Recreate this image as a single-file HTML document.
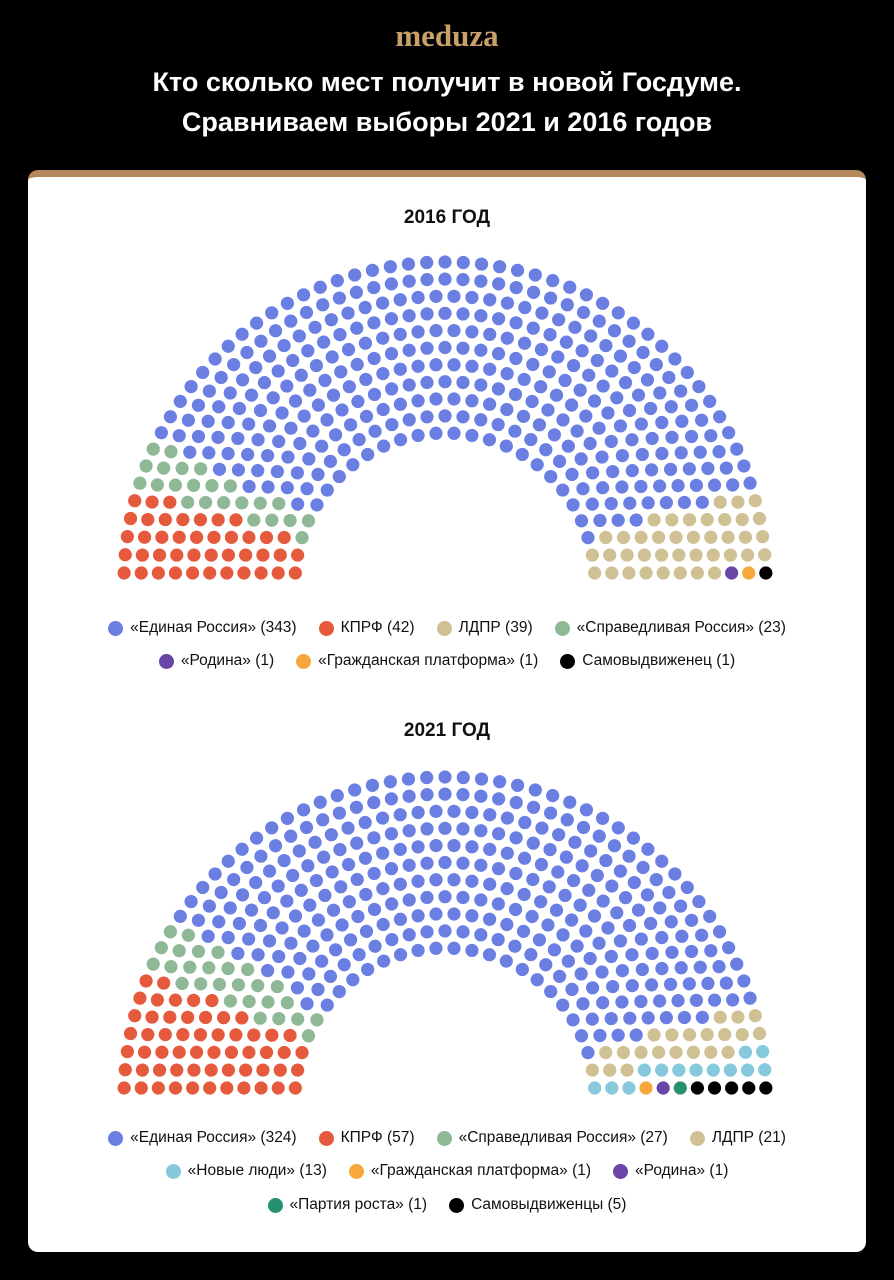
<!DOCTYPE html>
<html><head><meta charset="utf-8"><style>
body{margin:0;width:894px;height:1280px;background:#000;font-family:"Liberation Sans",sans-serif;position:relative;overflow:hidden}
.logo{position:absolute;top:18px;width:100%;text-align:center;color:#c9a06a;font-family:"Liberation Serif",serif;font-weight:bold;font-size:31px;letter-spacing:0px}
.title{position:absolute;top:62px;width:100%;text-align:center;color:#fff;font-weight:bold;font-size:27px;line-height:40px}
.card{position:absolute;left:28px;top:170px;width:838px;height:1082px;background:#fff;border-radius:10px;border-top:7px solid #b48a5c;box-sizing:border-box}
.h{position:absolute;width:100%;text-align:center;font-weight:bold;font-size:19px;color:#111}
.leg{position:absolute;width:100%;display:flex;justify-content:center;gap:22px;font-size:15.5px;color:#111}
.leg span{display:flex;align-items:center}
.leg i{display:inline-block;width:15px;height:15px;border-radius:50%;margin-right:7px}
svg{position:absolute;left:0;top:0}
</style></head><body>
<div class="logo">meduza</div>
<div class="title">Кто сколько мест получит в новой Госдуме.<br>Сравниваем выборы 2021 и 2016 годов</div>
<div class="card"></div>
<div class="h" style="top:207px">2016 ГОД</div>
<div class="h" style="top:720px">2021 ГОД</div>
<svg id="s" width="894" height="1280"></svg>
<div class="leg" style="top:619px"><span><i style="background:#6b7fe3"></i>«Единая Россия» (343)</span><span><i style="background:#e55a3c"></i>КПРФ (42)</span><span><i style="background:#cfc194"></i>ЛДПР (39)</span><span><i style="background:#8fb897"></i>«Справедливая Россия» (23)</span></div>
<div class="leg" style="top:652px"><span><i style="background:#6a45a8"></i>«Родина» (1)</span><span><i style="background:#f7a83a"></i>«Гражданская платформа» (1)</span><span><i style="background:#000"></i>Самовыдвиженец (1)</span></div>
<div class="leg" style="top:1129px"><span><i style="background:#6b7fe3"></i>«Единая Россия» (324)</span><span><i style="background:#e55a3c"></i>КПРФ (57)</span><span><i style="background:#8fb897"></i>«Справедливая Россия» (27)</span><span><i style="background:#cfc194"></i>ЛДПР (21)</span></div>
<div class="leg" style="top:1162px"><span><i style="background:#86c8dc"></i>«Новые люди» (13)</span><span><i style="background:#f7a83a"></i>«Гражданская платформа» (1)</span><span><i style="background:#6a45a8"></i>«Родина» (1)</span></div>
<div class="leg" style="top:1196px"><span><i style="background:#24906f"></i>«Партия роста» (1)</span><span><i style="background:#000"></i>Самовыдвиженцы (5)</span></div>
<script>
var s=document.getElementById('s'),ns='http://www.w3.org/2000/svg';
function draw(cx,cy,parties){
 var rows=11,rin=150,rout=321,step=(rout-rin)/(rows-1),radii=[],sum=0;
 for(var i=0;i<rows;i++){radii.push(rin+i*step);sum+=radii[i];}
 var counts=[],tot=0;
 for(i=0;i<rows;i++){counts.push(Math.round(450*radii[i]/sum));tot+=counts[i];}
 counts[rows-1]+=450-tot;
 var seats=[];
 for(i=0;i<rows;i++){var n=counts[i],r=radii[i],a0=Math.asin(10/r);
  for(var j=0;j<n;j++){var a=Math.PI-a0-j*(Math.PI-2*a0)/(n-1);seats.push({a:a,r:r});}}
 seats.sort(function(p,q){return q.a-p.a||p.r-q.r;});
 var k=0;
 parties.forEach(function(p){for(var m=0;m<p[0];m++){var st=seats[k++];var c=document.createElementNS(ns,'circle');
 c.setAttribute('cx',cx+st.r*Math.cos(st.a));c.setAttribute('cy',cy-st.r*Math.sin(st.a));c.setAttribute('r',6.6);c.setAttribute('fill',p[1]);s.appendChild(c);}});
}
draw(445,583,[[42,'#e55a3c'],[23,'#8fb897'],[343,'#6b7fe3'],[39,'#cfc194'],[1,'#6a45a8'],[1,'#f7a83a'],[1,'#000']]);
draw(445,1098,[[57,'#e55a3c'],[27,'#8fb897'],[324,'#6b7fe3'],[21,'#cfc194'],[13,'#86c8dc'],[1,'#f7a83a'],[1,'#6a45a8'],[1,'#24906f'],[5,'#000']]);
</script>
</body></html>
